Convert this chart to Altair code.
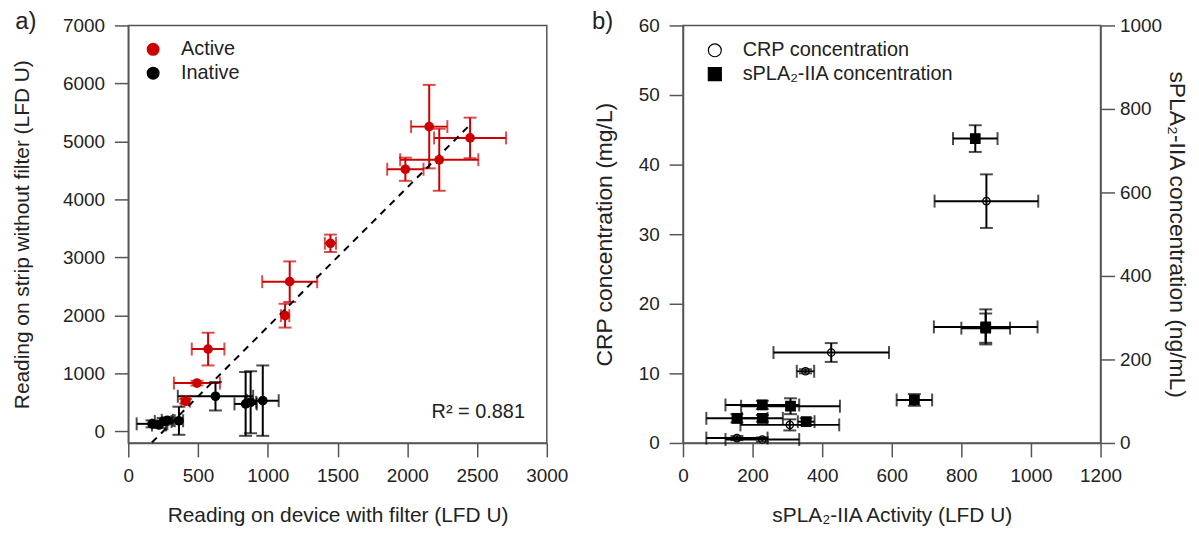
import altair as alt
import pandas as pd

# ---------------- Panel a data ----------------
act_x  = [2157, 2450, 2229, 1986, 1449, 1157, 1124, 572, 492, 411]
act_xe = [130, 258, 280, 130, 40, 197, 30, 117, 165, 30]
act_y  = [5255, 5060, 4684, 4520, 3243, 2581, 1995, 1419, 832, 520]
act_ye = [720, 350, 535, 200, 150, 350, 205, 282, 40, 40]

ina_x  = [625, 841, 877, 964, 363, 170, 220, 250, 280]
ina_xe = [270, 80, 40, 114, 30, 110, 50, 60, 40]
ina_y  = [605, 473, 502, 530, 183, 130, 110, 170, 190]
ina_ye = [245, 550, 535, 607, 242, 60, 50, 60, 50]

fit_x = [169, 2450]
fit_y = [-193, 5288]
r2_text = "R\u00b2 = 0.881"

# ---------------- Panel b data ----------------
CRP = "CRP concentration"
SPLA = "sPLA\u2082-IIA concentration"

crp_x  = [872, 426, 352, 307, 155, 228]
crp_xe = [149, 166, 25, 142, 88, 106]
crp_y  = [34.75, 13.0, 10.3, 2.6, 0.7, 0.5]
crp_ye = [3.85, 1.35, 0.3, 0.8, 0.3, 0.3]

spla_x  = [840, 870, 870, 665, 228, 309, 155, 228, 354]
spla_xe = [64, 149, 70, 51, 106, 142, 88, 59, 24]
spla_y  = [729, 278, 275, 103, 91, 88, 59, 59, 51]
spla_ye = [32, 42, 35, 14, 10, 19, 10, 8, 8]

FONT = "Liberation Sans"
RED = "#cc0000"
INK = "#222222"


def frame(xs, xe, ys, ye, group):
    df = pd.DataFrame({"x": xs, "xe": xe, "y": ys, "ye": ye})
    df["xlo"] = df["x"] - df["xe"]
    df["xhi"] = df["x"] + df["xe"]
    df["ylo"] = df["y"] - df["ye"]
    df["yhi"] = df["y"] + df["ye"]
    df["group"] = group
    return df


# ================= Panel a =================
df_a = pd.concat([frame(act_x, act_xe, act_y, act_ye, "Active"),
                  frame(ina_x, ina_xe, ina_y, ina_ye, "Inative")], ignore_index=True)

xs_a = alt.Scale(domain=[0, 3000], nice=False)
ys_a = alt.Scale(domain=[-200, 7000], nice=False)
ax_x_a = alt.Axis(values=[0, 500, 1000, 1500, 2000, 2500, 3000], format="d", labelFlush=False,
                  titlePadding=19)
ax_y_a = alt.Axis(values=[0, 1000, 2000, 3000, 4000, 5000, 6000, 7000], format="d",
                  labelFlush=False, titlePadding=30)
TX_A = "Reading on device with filter (LFD U)"
TY_A = "Reading on strip without filter (LFD U)"


def XA(f):
    return alt.X(f, type="quantitative", scale=xs_a, axis=ax_x_a, title=TX_A)


def YA(f):
    return alt.Y(f, type="quantitative", scale=ys_a, axis=ax_y_a, title=TY_A)


col_scale = alt.Scale(domain=["Active", "Inative"], range=[RED, "#000000"])
leg_a = alt.Legend(title=None, orient="none", legendX=15, legendY=14, symbolType="circle",
                   symbolSize=170, labelFontSize=20, labelOffset=18, rowPadding=4, padding=0,
                   symbolStrokeWidth=0, symbolOpacity=1, labelFont=FONT, labelColor=INK)
COL = alt.Color("group:N", scale=col_scale, legend=leg_a)

base_a = alt.Chart(df_a)
a_xbar = base_a.mark_rule(strokeWidth=2).encode(x=XA("xlo"), x2="xhi:Q", y=YA("y"), color=COL)
a_ybar = base_a.mark_rule(strokeWidth=2).encode(x=XA("x"), y=YA("ylo"), y2="yhi:Q", color=COL)
a_cap1 = base_a.mark_tick(orient="vertical", size=13, thickness=2).encode(x=XA("xlo"), y=YA("y"), color=COL)
a_cap2 = base_a.mark_tick(orient="vertical", size=13, thickness=2).encode(x=XA("xhi"), y=YA("y"), color=COL)
a_cap3 = base_a.mark_tick(orient="horizontal", size=13, thickness=2).encode(x=XA("x"), y=YA("ylo"), color=COL)
a_cap4 = base_a.mark_tick(orient="horizontal", size=13, thickness=2).encode(x=XA("x"), y=YA("yhi"), color=COL)
a_pts = base_a.mark_circle(size=95, opacity=1).encode(x=XA("x"), y=YA("y"), color=COL)

df_fit = pd.DataFrame({"fx": fit_x, "fy": fit_y})
a_fit = alt.Chart(df_fit).mark_line(color="black", strokeWidth=2, strokeDash=[7, 6]).encode(
    x=XA("fx"), y=YA("fy"))

df_txt = pd.DataFrame({"t": [0]})
a_r2 = alt.Chart(df_txt).mark_text(text=r2_text, fontSize=20, align="right", baseline="middle",
                                   font=FONT, color=INK).encode(x=alt.value(399), y=alt.value(389))
a_lab = alt.Chart(df_txt).mark_text(text="a)", fontSize=24, align="center", baseline="middle",
                                    font=FONT, color=INK).encode(x=alt.value(-103), y=alt.value(-3))

panel_a = alt.layer(a_xbar, a_ybar, a_cap1, a_cap2, a_cap3, a_cap4, a_fit, a_pts, a_r2, a_lab).properties(
    width=421, height=420)

# ================= Panel b =================
df_crp = frame(crp_x, crp_xe, crp_y, crp_ye, CRP)
df_spla = frame(spla_x, spla_xe, spla_y, spla_ye, SPLA)

xs_b = alt.Scale(domain=[0, 1200], nice=False)
ax_x_b = alt.Axis(values=[0, 200, 400, 600, 800, 1000, 1200], format="d", labelFlush=False,
                  titlePadding=19)
TX_B = "sPLA\u2082-IIA Activity (LFD U)"

ys_l = alt.Scale(domain=[0, 60], nice=False)
ys_r = alt.Scale(domain=[0, 1000], nice=False)
ax_l = alt.Axis(values=[0, 10, 20, 30, 40, 50, 60], format="d", labelFlush=False,
                titlePadding=22, titleFontSize=23, orient="left")
ax_r = alt.Axis(values=[0, 200, 400, 600, 800, 1000], format="d", labelFlush=False,
                titlePadding=3, labelPadding=5, titleFontSize=23, orient="right")
TY_L = "CRP concentration (mg/L)"
TY_R = "sPLA\u2082-IIA concentration (ng/mL)"

shape_scale = alt.Scale(domain=[CRP, SPLA], range=["circle", "square"])
fill_scale = alt.Scale(domain=[CRP, SPLA], range=["#ffffff", "#000000"])
stroke_scale = alt.Scale(domain=[CRP, SPLA], range=["#000000", "#000000"])
leg_b = alt.Legend(title=None, orient="none", legendX=22, legendY=15, symbolSize=170,
                   labelFontSize=20, labelOffset=18, rowPadding=4, padding=0, labelLimit=0,
                   symbolStrokeWidth=1.2, labelFont=FONT, labelColor=INK)


def XB(f):
    return alt.X(f, type="quantitative", scale=xs_b, axis=ax_x_b, title=TX_B)


def series_layer(df, yscale, yaxis, ytitle, ptsize, extra=None):
    def YB(f):
        return alt.Y(f, type="quantitative", scale=yscale, axis=yaxis, title=ytitle)
    base = alt.Chart(df)
    pts = base.mark_point(filled=True, strokeWidth=1.3, opacity=1, size=ptsize).encode(
        x=XB("x"), y=YB("y"),
        shape=alt.Shape("group:N", scale=shape_scale, legend=leg_b),
        fill=alt.Fill("group:N", scale=fill_scale, legend=leg_b),
        stroke=alt.Stroke("group:N", scale=stroke_scale, legend=leg_b))
    xbar = base.mark_rule(strokeWidth=2, color="black").encode(x=XB("xlo"), x2="xhi:Q", y=YB("y"))
    ybar = base.mark_rule(strokeWidth=2, color="black").encode(x=XB("x"), y=YB("ylo"), y2="yhi:Q")
    c1 = base.mark_tick(orient="vertical", size=13, thickness=2, color="black").encode(x=XB("xlo"), y=YB("y"))
    c2 = base.mark_tick(orient="vertical", size=13, thickness=2, color="black").encode(x=XB("xhi"), y=YB("y"))
    c3 = base.mark_tick(orient="horizontal", size=13, thickness=2, color="black").encode(x=XB("x"), y=YB("ylo"))
    c4 = base.mark_tick(orient="horizontal", size=13, thickness=2, color="black").encode(x=XB("x"), y=YB("yhi"))
    layers = [pts, xbar, ybar, c1, c2, c3, c4]
    if extra is not None:
        layers.append(extra)
    return alt.layer(*layers)


b_lab = alt.Chart(df_txt).mark_text(text="b)", fontSize=24, align="center", baseline="middle",
                                    font=FONT, color=INK).encode(x=alt.value(-81), y=alt.value(-3))

layer_crp = series_layer(df_crp, ys_l, ax_l, TY_L, 55, b_lab)
layer_spla = series_layer(df_spla, ys_r, ax_r, TY_R, 90)

panel_b = alt.layer(layer_crp, layer_spla).resolve_scale(y="independent").properties(
    width=420, height=420)

chart = alt.hconcat(panel_a, panel_b, spacing=22).resolve_scale(
    color="independent", shape="independent", fill="independent", stroke="independent"
).resolve_legend(
    color="independent", shape="independent", fill="independent", stroke="independent"
).properties(
    padding={"left": 2, "top": 0, "right": 2, "bottom": 0}
).configure_view(
    stroke="#555555", strokeWidth=1.5
).configure_axis(
    domainColor="#555555", tickColor="#555555", domainWidth=1.5, tickWidth=1.5,
    tickSize=14, labelPadding=10, labelFontSize=19, titleFontSize=21,
    labelFont=FONT, titleFont=FONT, labelColor=INK, titleColor=INK,
    titleFontWeight="normal", grid=False
).configure_legend(
    labelFont=FONT, labelColor=INK
)

chart.save("out.html", embed_options={"renderer": "svg", "actions": False})
